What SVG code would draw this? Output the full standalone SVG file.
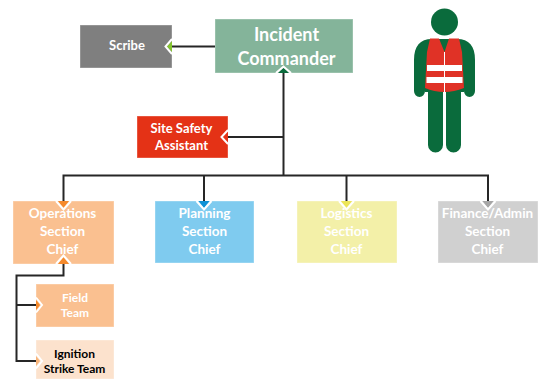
<svg xmlns="http://www.w3.org/2000/svg" width="542" height="379" viewBox="0 0 542 379">
<style>
text{font-family:Lato,"Liberation Sans",sans-serif;font-weight:700;text-anchor:middle;fill:#fff}
.s{font-size:13px}.m{font-size:13.500px}.t{font-size:12px}.k{fill:#000}
.l{fill:none;stroke:#262626;stroke-width:2}
.c{fill:none;stroke:#fff;stroke-width:2}
.b{stroke:#fff;stroke-opacity:.35;stroke-width:1}
.g{fill:#0a6b3c}
</style>
<rect width="542" height="379" fill="#fff"/>
<g id="scribe"><rect class="b" x="80" y="25" width="92" height="43" fill="#7f7f7f"/><text class="s" x="127" y="50">Scribe</text></g>
<g id="incident-commander"><rect class="b" x="215" y="19" width="138" height="54" fill="#84b49a"/><text x="286.500" y="41" font-size="18">Incident</text><text x="286.500" y="65" font-size="18">Commander</text></g>
<g id="site-safety-assistant"><rect class="b" x="137" y="116" width="91" height="42" fill="#e43216"/><text class="s" x="181.500" y="133">Site Safety</text><text class="s" x="181.500" y="150">Assistant</text></g>
<g id="operations"><rect class="b" x="13" y="201" width="101" height="63" fill="#fac090"/><text class="m" x="62.500" y="218">Operations</text><text class="m" x="62.500" y="236">Section</text><text class="m" x="62.500" y="253.500">Chief</text></g>
<g id="planning"><rect class="b" x="155" y="201" width="99" height="62" fill="#7fcbef"/><text class="m" x="204.500" y="218">Planning</text><text class="m" x="204.500" y="236">Section</text><text class="m" x="204.500" y="253.500">Chief</text></g>
<g id="logistics"><rect class="b" x="297" y="201" width="100" height="62" fill="#f3f0a8"/><text class="m" x="346.500" y="218">Logistics</text><text class="m" x="346.500" y="236">Section</text><text class="m" x="346.500" y="253.500">Chief</text></g>
<g id="finance-admin"><rect class="b" x="438" y="201" width="100" height="62" fill="#d0d0d0"/><text class="m" x="487.500" y="218">Finance/Admin</text><text class="m" x="487.500" y="236">Section</text><text class="m" x="487.500" y="253.500">Chief</text></g>
<g id="field-team"><rect class="b" x="36" y="284" width="78" height="43" fill="#fac090"/><text class="t" x="75" y="302">Field</text><text class="t" x="75" y="317">Team</text></g>
<g id="ignition-strike-team"><rect class="b" x="36" y="340" width="78" height="39" fill="#fce2cd"/><text class="t k" x="74.500" y="358">Ignition</text><text class="t k" x="74.500" y="372.500">Strike Team</text></g>
<g id="connectors">
<path class="l" d="M215 46.500H172"/>
<path class="l" d="M283.500 73V175.500"/>
<path class="l" d="M283.500 137H228"/>
<path class="l" d="M63.500 201V175.500H488V201"/>
<path class="l" d="M204 175.500V201"/>
<path class="l" d="M346.500 175.500V201"/>
<path class="l" d="M63.500 264V275.500H16.500V361H36"/>
<path class="l" d="M16.500 305H36"/>
<path fill="#84c52e" d="M167 46.500L172 41V52Z"/><path class="c" d="M172 39L165.500 46.500L172 54"/>
<path fill="#0a6b3c" d="M283.500 68L278 73H289Z"/><path class="c" d="M276 73L283.500 66.500L291 73"/>
<path fill="#e43216" d="M223 137L228 131.500V142.500Z"/><path class="c" d="M228 130L221.500 137L228 144"/>
<path fill="#f58a2c" d="M58 201H69L63.500 208Z"/><path class="c" d="M56 201L63.500 209.500L71 201"/>
<path fill="#0f92d6" d="M198.500 201H209.500L204 208Z"/><path class="c" d="M196.500 201L204 209.500L211.500 201"/>
<path fill="#ece55a" d="M341 201H352L346.500 208Z"/><path class="c" d="M339 201L346.500 209.500L354 201"/>
<path fill="#a6a6a6" d="M482.500 201H493.500L488 208Z"/><path class="c" d="M480.500 201L488 209.500L495.500 201"/>
<path fill="#f58a2c" d="M63.500 257L58 264H69Z"/><path class="c" d="M56 264L63.500 255.500L71 264"/>
<path fill="#f58a2c" d="M40 305L36 300V310Z"/><path class="c" d="M36 297.500L42 305L36 312.500"/>
<path fill="#f8b47a" d="M40 361L36 356V366Z"/><path class="c" d="M36 353.500L42 361L36 368.500"/>
</g>
<g id="person">
<circle class="g" cx="444.500" cy="22" r="13.500"/>
<path class="g" d="M414 60C414 46 420 39 432 39H457C469 39 475 46 475 60V91A5.500 6 0 0 1 464 91V60H425V91A5.500 6 0 0 1 414 91Z"/>
<path class="g" d="M425 45H464V92H425Z"/>
<path class="g" d="M428 88H443V145A7.500 7.500 0 0 1 428 145Z"/>
<path class="g" d="M446 88H461V145A7.500 7.500 0 0 1 446 145Z"/>
<path fill="#e03226" d="M430 38.500H439L444.500 52L449 38.500H459L462 52L464 88Q454 92 444.500 92Q434 92 425 88L427 52Z"/>
<path fill="#fff" d="M427 65H462V71H427ZM426.500 77H462.500V83H426.500Z"/>
<path stroke="#fff" stroke-width="1" d="M444.500 52V92"/>
</g>
</svg>
